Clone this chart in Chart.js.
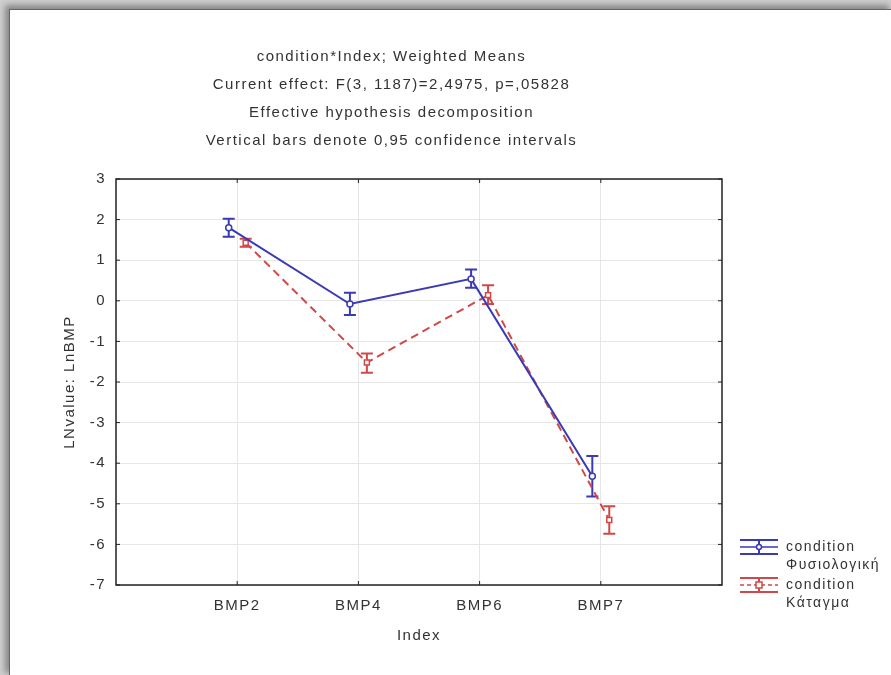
<!DOCTYPE html>
<html lang="el">
<head>
<meta charset="UTF-8" />
<title>condition*Index; Weighted Means</title>
<script src="https://cdn.jsdelivr.net/npm/chart.js@4.4.1/dist/chart.umd.min.js"></script>
<style>
  body { margin: 0; background: #fff; }
  .frame { position: relative; width: 891px; height: 675px; background: #cfcfcf; overflow: hidden; }
  .sheet {
    position: absolute; left: 9px; top: 9px; right: 0; bottom: 0;
    background: #fff;
    border-left: 1px solid #666; border-top: 1px solid #666;
    box-shadow: -3px -3px 6px 1px rgba(0,0,0,0.35);
  }
  canvas { position: absolute; left: 0; top: 0; }
</style>
</head>
<body>
<div class="frame">
  <div class="sheet"></div>
  <canvas id="c" width="891" height="675"></canvas>
</div>
<script>
// categories and values
const categories = ["BMP2", "BMP4", "BMP6", "BMP7"];
const normalMean = [1.80, -0.08, 0.54, -4.32];
const normalLow = [1.58, -0.35, 0.32, -4.82];
const normalHigh = [2.02, 0.20, 0.77, -3.82];
const fractureMean = [1.43, -1.52, 0.14, -5.40];
const fractureLow = [1.33, -1.77, -0.08, -5.74];
const fractureHigh = [1.53, -1.30, 0.38, -5.06];
const yTicks = [3, 2, 1, 0, -1, -2, -3, -4, -5, -6, -7];

const titleLines = [
  "condition*Index; Weighted Means",
  "Current effect: F(3, 1187)=2,4975, p=,05828",
  "Effective hypothesis decomposition",
  "Vertical bars denote 0,95 confidence intervals"
];

const BLUE = "#3a3ab4";
const RED = "#d04848";
const TEXT = "#333";
const FONT = "'Liberation Sans', Arial, sans-serif";

// small shift so the two series sit side by side at each category
const shift = 0.07;
const toPoints = (arr, d) => arr.map((v, i) => ({ x: i + 1 + d, y: v }));

const spacing = {
  id: "spacing",
  beforeUpdate(chart) { chart.ctx.letterSpacing = "1.5px"; },
  beforeDraw(chart) { chart.ctx.letterSpacing = "1.5px"; }
};

// vertical confidence bars
const errorBars = {
  id: "errorBars",
  beforeDatasetsDraw(chart) {
    const { ctx } = chart;
    const yS = chart.scales.y;
    const sets = [[normalLow, normalHigh, BLUE], [fractureLow, fractureHigh, RED]];
    sets.forEach(([lo, hi, col], di) => {
      const meta = chart.getDatasetMeta(di);
      ctx.save();
      ctx.strokeStyle = col;
      ctx.lineWidth = 2;
      meta.data.forEach((pt, i) => {
        const y1 = yS.getPixelForValue(lo[i]);
        const y2 = yS.getPixelForValue(hi[i]);
        ctx.beginPath();
        ctx.moveTo(pt.x, y1); ctx.lineTo(pt.x, y2);
        ctx.moveTo(pt.x - 6, y1); ctx.lineTo(pt.x + 6, y1);
        ctx.moveTo(pt.x - 6, y2); ctx.lineTo(pt.x + 6, y2);
        ctx.stroke();
      });
      ctx.restore();
    });
  }
};

// plot frame with inward ticks, plus the legend on the right
const frameAndLegend = {
  id: "frameAndLegend",
  afterDraw(chart) {
    const { ctx, chartArea: a } = chart;
    const xS = chart.scales.x, yS = chart.scales.y;
    ctx.save();
    ctx.strokeStyle = "#222";
    ctx.lineWidth = 1.5;
    ctx.strokeRect(a.left, a.top, a.right - a.left, a.bottom - a.top);
    ctx.lineWidth = 1;
    ctx.beginPath();
    yTicks.forEach(v => {
      const y = yS.getPixelForValue(v);
      ctx.moveTo(a.left, y); ctx.lineTo(a.left + 4, y);
      ctx.moveTo(a.right, y); ctx.lineTo(a.right - 4, y);
    });
    categories.forEach((c, i) => {
      const x = xS.getPixelForValue(i + 1);
      ctx.moveTo(x, a.top); ctx.lineTo(x, a.top + 4);
      ctx.moveTo(x, a.bottom); ctx.lineTo(x, a.bottom - 4);
    });
    ctx.stroke();

    // legend
    const items = [
      { col: BLUE, dash: [], box: false, lines: ["condition", "Φυσιολογική"] },
      { col: RED, dash: [4, 3], box: true, lines: ["condition", "Κάταγμα"] }
    ];
    const lx = 740, lw = 38;
    let ly = 547;
    ctx.font = "14px " + FONT;
    ctx.textBaseline = "middle";
    ctx.textAlign = "left";
    items.forEach(it => {
      ctx.strokeStyle = it.col;
      ctx.lineWidth = 2;
      ctx.setLineDash([]);
      ctx.beginPath();
      ctx.moveTo(lx, ly - 7); ctx.lineTo(lx + lw, ly - 7);
      ctx.moveTo(lx, ly + 7); ctx.lineTo(lx + lw, ly + 7);
      ctx.moveTo(lx + lw / 2, ly - 7); ctx.lineTo(lx + lw / 2, ly + 7);
      ctx.stroke();
      ctx.lineWidth = 1.5;
      ctx.setLineDash(it.dash);
      ctx.beginPath();
      ctx.moveTo(lx, ly); ctx.lineTo(lx + lw, ly);
      ctx.stroke();
      ctx.setLineDash([]);
      ctx.fillStyle = "#fff";
      ctx.beginPath();
      if (it.box) ctx.rect(lx + lw / 2 - 3, ly - 3, 6, 6);
      else ctx.arc(lx + lw / 2, ly, 2.5, 0, Math.PI * 2);
      ctx.fill(); ctx.stroke();
      ctx.fillStyle = TEXT;
      ctx.fillText(it.lines[0], lx + 46, ly);
      ctx.fillText(it.lines[1], lx + 46, ly + 18);
      ly += 38;
    });
    ctx.restore();
  }
};

new Chart(document.getElementById("c"), {
  type: "line",
  data: {
    datasets: [
      {
        label: "condition Φυσιολογική",
        data: toPoints(normalMean, -shift),
        borderColor: BLUE,
        borderWidth: 2,
        pointStyle: "circle",
        pointRadius: 3,
        pointBorderWidth: 1.5,
        pointBackgroundColor: "#fff",
        pointBorderColor: BLUE,
        tension: 0
      },
      {
        label: "condition Κάταγμα",
        data: toPoints(fractureMean, shift),
        borderColor: RED,
        borderWidth: 2,
        borderDash: [8, 5],
        pointStyle: "rect",
        pointRadius: 3.5,
        pointBorderWidth: 1.5,
        pointBackgroundColor: "#fff",
        pointBorderColor: RED,
        tension: 0
      }
    ]
  },
  options: {
    responsive: false,
    animation: false,
    layout: { padding: { left: 61, top: 43, right: 169, bottom: 30 } },
    plugins: {
      legend: { display: false },
      tooltip: { enabled: false },
      title: {
        display: true,
        text: titleLines,
        color: TEXT,
        font: { family: FONT, size: 15, weight: "normal", lineHeight: "28px" },
        padding: { top: 0, bottom: 24 }
      }
    },
    scales: {
      x: {
        type: "linear",
        min: 0,
        max: 5,
        afterBuildTicks: s => { s.ticks = categories.map((c, i) => ({ value: i + 1 })); },
        afterFit: s => { s.height = 60; },
        grid: { color: "#e6e6e6", drawTicks: false },
        border: { display: false },
        ticks: {
          autoSkip: false,
          maxRotation: 0,
          padding: 12,
          color: TEXT,
          font: { family: FONT, size: 15 },
          callback: v => categories[v - 1]
        },
        title: {
          display: true,
          text: "Index",
          color: TEXT,
          font: { family: FONT, size: 15 },
          padding: 0
        }
      },
      y: {
        min: -7,
        max: 3,
        afterBuildTicks: s => { s.ticks = yTicks.map(v => ({ value: v })); },
        afterFit: s => { s.width = 55; },
        grid: { color: "#e6e6e6", drawTicks: false },
        border: { display: false },
        ticks: {
          padding: 10,
          color: TEXT,
          font: { family: FONT, size: 15 }
        },
        title: {
          display: true,
          text: "LNvalue: LnBMP",
          color: TEXT,
          font: { family: FONT, size: 15 },
          padding: 0
        }
      }
    }
  },
  plugins: [spacing, errorBars, frameAndLegend]
});
</script>
</body>
</html>
